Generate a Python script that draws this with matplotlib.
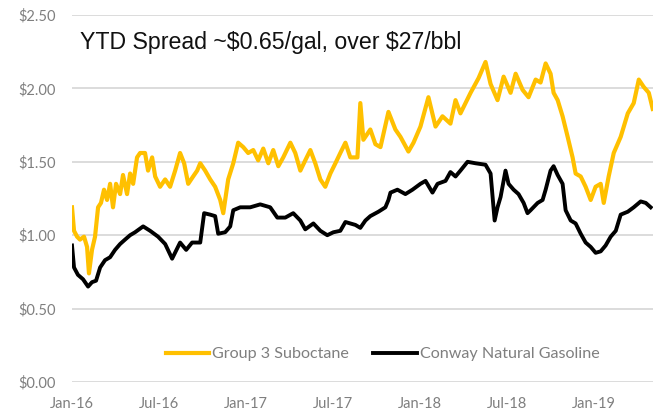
import matplotlib
matplotlib.use("Agg")
import matplotlib.pyplot as plt
import numpy as np

# time in months since Jan-2016
g3_months = [0.00, 0.14, 0.35, 0.55, 0.83, 1.04, 1.17, 1.38, 1.59, 1.80, 2.00, 2.21, 2.42, 2.63, 2.83,
             3.04, 3.32, 3.52, 3.80, 4.01, 4.22, 4.49, 4.70, 5.04, 5.25, 5.53, 5.74, 6.08, 6.43, 6.77,
             7.12, 7.46, 7.74, 8.02, 8.36, 8.64, 8.85, 9.19, 9.54, 9.88, 10.23, 10.44, 10.78, 11.13,
             11.47, 11.82, 12.16, 12.51, 12.85, 13.20, 13.55, 13.89, 14.24, 14.58, 15.07, 15.41, 15.76,
             16.10, 16.45, 16.79, 17.14, 17.48, 17.83, 18.18, 18.52, 18.87, 19.21, 19.70, 19.90, 20.11,
             20.59, 20.94, 21.29, 21.84, 22.32, 22.67, 23.22, 23.57, 24.05, 24.60, 25.09, 25.57, 26.12,
             26.47, 26.81, 27.51, 28.06, 28.54, 28.89, 29.37, 29.79, 30.27, 30.62, 31.10, 31.51, 32.00,
             32.34, 32.69, 33.03, 33.24, 33.52, 33.86, 34.21, 34.55, 34.76, 35.11, 35.45, 35.80, 36.14,
             36.49, 36.70, 37.04, 37.39, 37.87, 38.36, 38.77, 39.12, 39.46, 39.81, 40.08]
g3_values = [1.19, 1.03, 0.99, 0.97, 0.99, 0.92, 0.74, 0.90, 0.99, 1.19, 1.22, 1.31, 1.24, 1.35, 1.19,
             1.35, 1.28, 1.41, 1.28, 1.42, 1.35, 1.53, 1.56, 1.56, 1.44, 1.53, 1.40, 1.33, 1.38, 1.33,
             1.44, 1.56, 1.49, 1.35, 1.40, 1.44, 1.49, 1.44, 1.38, 1.33, 1.24, 1.15, 1.38, 1.49,
             1.63, 1.60, 1.56, 1.58, 1.51, 1.59, 1.49, 1.58, 1.47, 1.53, 1.63, 1.56, 1.44,
             1.51, 1.58, 1.49, 1.38, 1.33, 1.42, 1.49, 1.56, 1.63, 1.53, 1.53, 1.90, 1.65,
             1.72, 1.62, 1.60, 1.84, 1.72, 1.67, 1.57, 1.63, 1.74, 1.94, 1.74, 1.81, 1.76,
             1.92, 1.83, 1.97, 2.07, 2.18, 2.03, 1.92, 2.08, 1.97, 2.10, 1.99, 1.94, 2.06,
             2.04, 2.17, 2.10, 1.97, 1.92, 1.81, 1.67, 1.53, 1.42, 1.40, 1.33, 1.24, 1.33,
             1.35, 1.22, 1.40, 1.56, 1.67, 1.83, 1.90, 2.06, 2.01, 1.97, 1.86]

cw_months = [0.00, 0.14, 0.41, 0.76, 1.11, 1.38, 1.66, 1.94, 2.28, 2.63, 2.97, 3.32, 3.66, 4.01, 4.35,
             4.91, 5.39, 5.94, 6.43, 6.91, 7.46, 7.88, 8.29, 8.85, 9.12, 9.54, 9.88, 10.09, 10.57,
             10.92, 11.13, 11.61, 12.30, 12.99, 13.68, 14.17, 14.72, 15.27, 15.76, 16.10, 16.66,
             17.14, 17.62, 18.04, 18.52, 18.87, 19.21, 19.56, 19.90, 20.25, 20.59, 21.15, 21.63,
             21.84, 21.98, 22.46, 23.01, 23.50, 24.05, 24.40, 24.88, 25.23, 25.78, 26.12, 26.47,
             26.81, 27.30, 27.85, 28.54, 28.89, 29.03, 29.17, 29.37, 29.58, 29.92, 30.13, 30.48,
             30.82, 31.17, 31.44, 31.65, 32.14, 32.48, 32.69, 33.03, 33.24, 33.52, 33.86, 34.07,
             34.42, 34.76, 35.11, 35.45, 35.80, 36.14, 36.49, 36.83, 37.18, 37.53, 37.87, 38.36,
             38.77, 39.25, 39.60, 39.94]
cw_values = [0.93, 0.78, 0.73, 0.70, 0.65, 0.68, 0.69, 0.78, 0.83, 0.85, 0.90, 0.94, 0.97, 1.00, 1.02,
             1.06, 1.03, 0.99, 0.94, 0.84, 0.95, 0.90, 0.95, 0.95, 1.15, 1.14, 1.13, 1.01, 1.02,
             1.06, 1.17, 1.19, 1.19, 1.21, 1.19, 1.12, 1.12, 1.15, 1.10, 1.04, 1.08,
             1.03, 1.00, 1.02, 1.03, 1.09, 1.08, 1.07, 1.05, 1.10, 1.13, 1.16, 1.19,
             1.24, 1.29, 1.31, 1.28, 1.31, 1.35, 1.37, 1.29, 1.35, 1.37, 1.43, 1.40,
             1.44, 1.50, 1.49, 1.48, 1.42, 1.26, 1.10, 1.19, 1.26, 1.44, 1.35, 1.31,
             1.28, 1.22, 1.15, 1.17, 1.22, 1.24, 1.31, 1.44, 1.47, 1.41, 1.35, 1.17,
             1.10, 1.08, 1.01, 0.95, 0.92, 0.88, 0.89, 0.93, 0.99, 1.03, 1.14, 1.16,
             1.19, 1.23, 1.22, 1.19]

tick_months = [0, 6, 12, 18, 24, 30, 36]
tick_labels = ["Jan-16", "Jul-16", "Jan-17", "Jul-17", "Jan-18", "Jul-18", "Jan-19"]
y_ticks = [0.0, 0.5, 1.0, 1.5, 2.0, 2.5]
y_labels = ["$0.00", "$0.50", "$1.00", "$1.50", "$2.00", "$2.50"]
series_names = ["Group 3 Suboctane", "Conway Natural Gasoline"]
annotation = "YTD Spread ~$0.65/gal, over $27/bbl"

fig = plt.figure(figsize=(6.53, 4.15), dpi=100)
ax = fig.add_axes([72/653, 33/415, 581/653, 367/415])

ax.plot(g3_months, g3_values, color="#FFC000", lw=3.0, label=series_names[0], solid_joinstyle="round")
ax.plot(cw_months, cw_values, color="#000000", lw=2.8, label=series_names[1], solid_joinstyle="round")

ax.set_xlim(0, 40.1)
ax.set_ylim(0, 2.5)
ax.set_yticks(y_ticks)
ax.set_yticklabels([s.replace("$", r"\$") for s in y_labels])
ax.set_xticks(tick_months)
ax.set_xticklabels(tick_labels)
ax.grid(axis="y", color="#d9d9d9", lw=1.3)
ax.set_axisbelow(True)
for s in ax.spines.values():
    s.set_visible(False)
ax.tick_params(length=0, colors="#7f7f7f", labelsize=10.5)
ax.tick_params(axis="y", pad=12)
ax.tick_params(axis="x", pad=11)
for lab in ax.get_xticklabels() + ax.get_yticklabels():
    lab.set_fontfamily("Lato")

ax.text(80/653, 1 - 42/415, annotation.replace("$", r"\$"), transform=fig.transFigure,
        fontsize=16.7, family="Liberation Sans", va="center", ha="left", color="#111111")

leg = ax.legend(loc="center", bbox_to_anchor=(0.535, 0.076), ncol=2, frameon=False,
                handlelength=2.7, handletextpad=0.2, columnspacing=1.5,
                prop={"family": "Lato", "size": 11.6})
for t in leg.get_texts():
    t.set_color("#7f7f7f")

fig.savefig("out.png", dpi=100)
